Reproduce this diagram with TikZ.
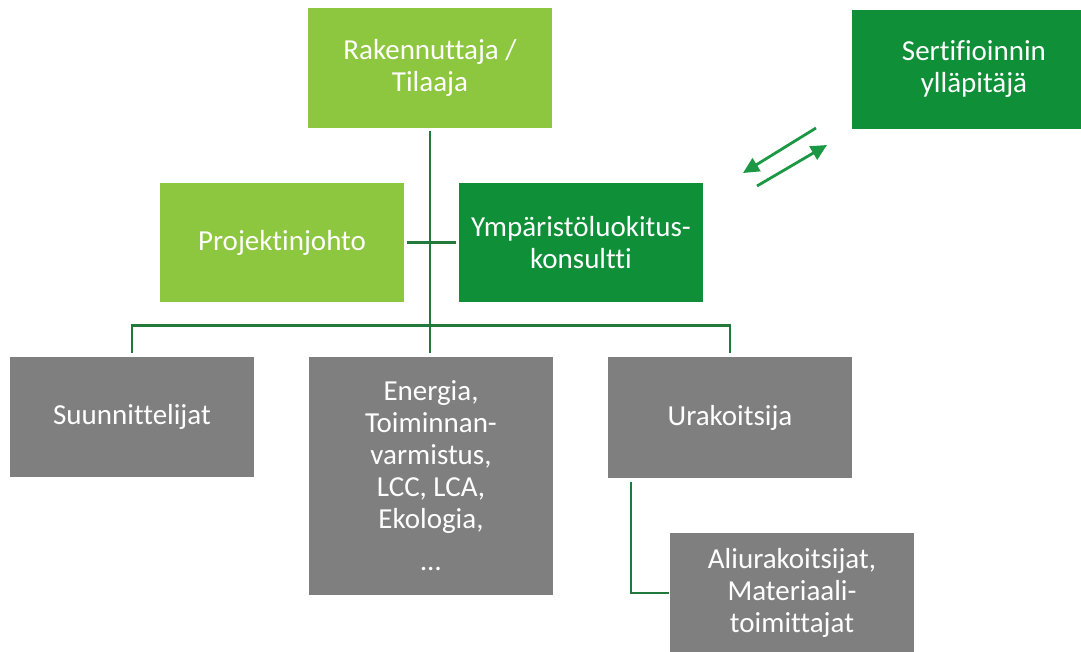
\documentclass[tikz,border=0pt]{standalone}
\usepackage{fontspec}
\setmainfont{Carlito}[Ligatures={NoCommon}]
\usetikzlibrary{arrows.meta}
\definecolor{lightgrn}{HTML}{8DC63F}
\definecolor{darkgrn}{HTML}{0F9038}
\definecolor{boxgray}{HTML}{7F7F7F}
\definecolor{linegrn}{HTML}{217A3C}
\definecolor{arrowgrn}{HTML}{1C9845}
\tikzset{
  box/.style={rectangle, inner sep=0pt, minimum width=244pt, minimum height=120pt,
    text=white, align=center, font=\fontsize{29}{32}\selectfont},
  lbox/.style={box, fill=lightgrn},
  dbox/.style={box, fill=darkgrn},
  gbox/.style={box, fill=boxgray},
  conn/.style={draw=linegrn, line width=2.8pt},
  darr/.style={draw=arrowgrn, line width=2.8pt, -{Triangle[length=16pt,width=15pt]}}
}
\begin{document}
\begin{tikzpicture}[x=1pt,y=-1pt]
\useasboundingbox[fill=white] (0,0) rectangle (1081,651);
\node[lbox] (rak) at (430,68) {Rakennuttaja /\\Tilaaja};
\node[dbox, minimum height=119pt] (sert) at (974,69.5) {Sertifioinnin\\ylläpitäjä};
\node[lbox, minimum height=119pt] (proj) at (282,242.5) {Projektinjohto};
\node[dbox, minimum height=119pt] (ymp) at (581,242.5) {Ympäristöluokitus-\\konsultti};
\node[gbox] (suun) at (132,417) {Suunnittelijat};
\node[gbox, minimum height=238pt] (ener) at (431,476) {Energia,\\Toiminnan-\\varmistus,\\LCC, LCA,\\Ekologia,\\[10pt]\dots};
\node[gbox, minimum height=121pt] (urak) at (730,417.5) {Urakoitsija};
\node[gbox] (ali) at (792,593) {Aliurakoitsijat,\\Materiaali-\\toimittajat};
% connectors
\draw[conn, shorten <=3pt, shorten >=4pt] (rak.south) -- (rak.south |- ener.north);
\draw[conn] ([yshift=4pt]suun.north) -- ++(0,-27) -| ([yshift=4pt]urak.north);
\draw[conn, shorten <=3pt, shorten >=3pt] (proj.east) -- (ymp.west);
\draw[conn, shorten >=1pt] ([xshift=-99pt,yshift=-4pt]urak.south) |- (ali.west);
% arrows
\coordinate (a1s) at (816,128);
\coordinate (a1e) at (743,173);
\coordinate (a2s) at (757,186);
\coordinate (a2e) at (827,145);
\draw[darr] (a1s) -- (a1e);
\draw[darr] (a2s) -- (a2e);
\end{tikzpicture}
\end{document}
